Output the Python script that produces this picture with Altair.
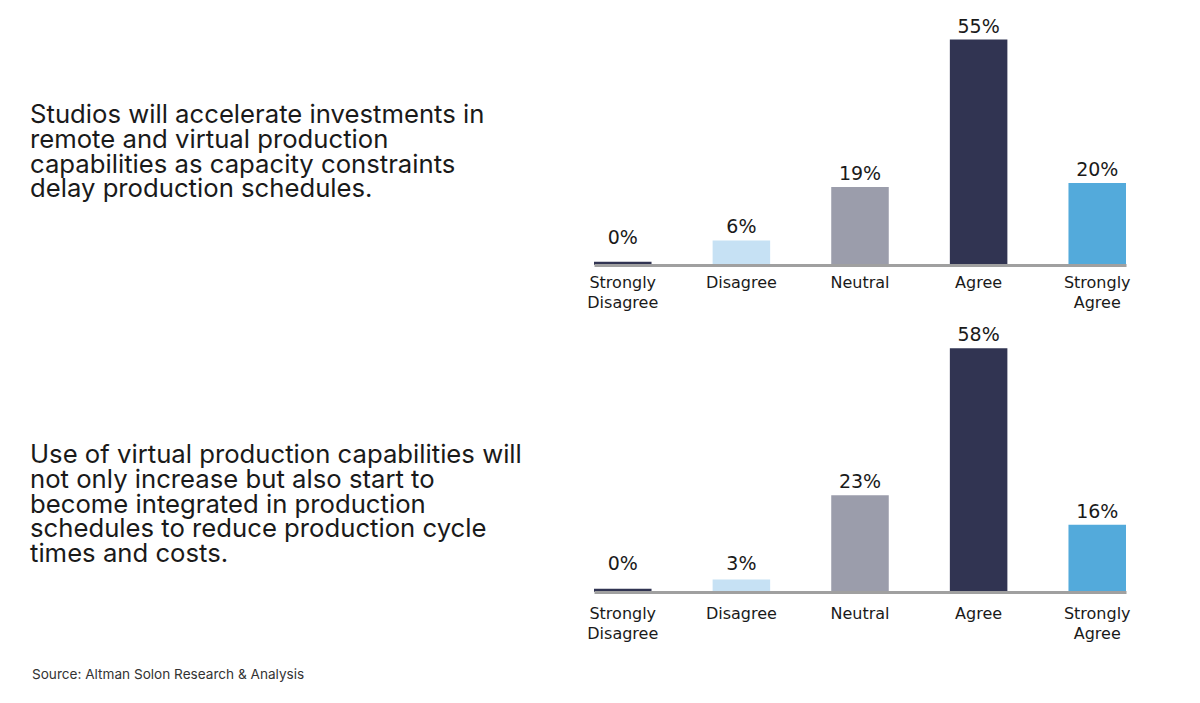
import altair as alt
import pandas as pd

# ---- data ----
categories = ["Strongly Disagree", "Disagree", "Neutral", "Agree", "Strongly Agree"]
values_top = [0.8, 6, 19, 55, 20]
labels_top = ["0%", "6%", "19%", "55%", "20%"]
values_bottom = [0.8, 3, 23, 58, 16]
labels_bottom = ["0%", "3%", "23%", "58%", "16%"]
bar_colors = ["#313452", "#c6e1f4", "#9b9dab", "#313452", "#53aadb"]

statement_top = [
    "Studios will accelerate investments in",
    "remote and virtual production",
    "capabilities as capacity constraints",
    "delay production schedules.",
]
statement_bottom = [
    "Use of virtual production capabilities will",
    "not only increase but also start to",
    "become integrated in production",
    "schedules to reduce production cycle",
    "times and costs.",
]
source_text = "Source: Altman Solon Research & Analysis"

TEXT_FONT = "Inter"
LABEL_FONT = "DejaVu Sans"
INK = "#1a1a1a"


def bar_panel(values, labels, height, ymax, label_pad):
    df = pd.DataFrame({"cat": categories, "v": values, "lab": labels})
    base = alt.Chart(df).transform_calculate(ly="max(datum.v, 3.5)").encode(
        x=alt.X(
            "cat:N",
            sort=categories,
            scale=alt.Scale(paddingInner=0.515, paddingOuter=0),
            axis=alt.Axis(
                title=None,
                ticks=False,
                domainColor="#a0a0a0",
                domainWidth=3,
                labelAngle=0,
                labelExpr="split(datum.label, ' ')",
                labelFont=LABEL_FONT,
                labelFontSize=16,
                labelColor=INK,
                labelLineHeight=20,
                labelPadding=label_pad,
                labelBaseline="top",
                zindex=1,
            ),
        )
    )
    bars = base.mark_bar().encode(
        y=alt.Y("v:Q", scale=alt.Scale(domain=[0, ymax]), axis=None),
        color=alt.Color(
            "cat:N", scale=alt.Scale(domain=categories, range=bar_colors), legend=None
        ),
    )
    txt = base.mark_text(
        baseline="alphabetic", dy=-7, fontSize=19, font=LABEL_FONT, color=INK
    ).encode(
        y=alt.Y("ly:Q", scale=alt.Scale(domain=[0, ymax]), axis=None),
        text="lab:N",
    )
    return alt.layer(bars, txt).properties(width=532, height=height)


def statement_panel(lines, height, cy, extra=None):
    df = pd.DataFrame({"t": ["\n".join(lines)]})
    t = alt.Chart(df).mark_text(
        align="left",
        baseline="middle",
        lineBreak="\n",
        fontSize=25.7,
        lineHeight=24.8,
        font=TEXT_FONT,
        color=INK,
    ).encode(text="t:N", x=alt.value(22), y=alt.value(cy))
    layers = [t]
    if extra is not None:
        layers.append(extra)
    return alt.layer(*layers).properties(width=560, height=height)


src = alt.Chart(pd.DataFrame({"s": [source_text]})).mark_text(
    align="left", baseline="middle", fontSize=13.6, font=TEXT_FONT, color="#333333"
).encode(text="s:N", x=alt.value(24), y=alt.value(352))

row1 = alt.hconcat(
    statement_panel(statement_top, 257, 107),
    bar_panel(values_top, labels_top, 257, 62.7, 9),
    spacing=26,
    bounds="flush",
)
row2 = alt.hconcat(
    statement_panel(statement_bottom, 269, 132, src),
    bar_panel(values_bottom, labels_bottom, 269, 64, 13),
    spacing=26,
    bounds="flush",
)

chart = (
    alt.vconcat(row1, row2, spacing=13)
    .properties(padding=0, background="white")
    .configure_view(strokeWidth=0)
)

chart.save("out.html", embed_options={"renderer": "svg", "actions": False})
